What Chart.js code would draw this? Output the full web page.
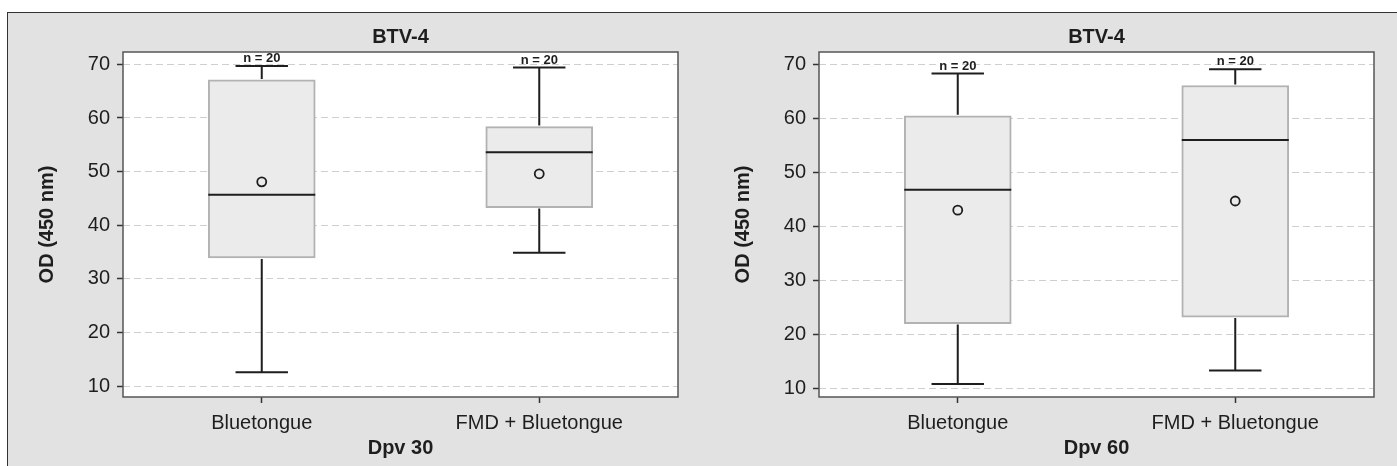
<!DOCTYPE html>
<html>
<head>
<meta charset="utf-8">
<script src="https://cdn.jsdelivr.net/npm/chart.js@4/dist/chart.umd.min.js"></script>
<style>
  html, body { margin: 0; padding: 0; background: #fff; width: 1397px; height: 466px; overflow: hidden; position: relative; }
  #frame { position: absolute; left: 7px; top: 12px; width: 1420px; height: 480px; background: #e2e2e2;
           border-top: 1.5px solid #333; border-left: 1.5px solid #333; }
  .panel { position: absolute; top: 0; height: 466px; }
  #p1 { left: 0; width: 698px; }
  #p2 { left: 698px; width: 699px; }
</style>
</head>
<body>
<div id="frame"></div>
<div class="panel" id="p1"><canvas id="c1" width="698" height="466"></canvas></div>
<div class="panel" id="p2"><canvas id="c2" width="699" height="466"></canvas></div>
<script>
// Groups and axis ticks
const categories = ['Bluetongue', 'FMD + Bluetongue'];
const yTicks = [10, 20, 30, 40, 50, 60, 70];

// Day 30 post vaccination: five-number summaries, means and group sizes
const d30Low    = [12.6, 34.9];
const d30Q1     = [33.9, 43.3];
const d30Median = [45.7, 53.6];
const d30Q3     = [67.1, 58.4];
const d30High   = [69.7, 69.4];
const d30Mean   = [48.1, 49.6];
const d30N      = [20, 20];

// Day 60 post vaccination
const d60Low    = [10.8, 13.3];
const d60Q1     = [22.0, 23.2];
const d60Median = [46.8, 56.0];
const d60Q3     = [60.5, 66.1];
const d60High   = [68.3, 69.1];
const d60Mean   = [43.0, 44.7];
const d60N      = [20, 20];

const FONT = "'Liberation Sans', Arial, Helvetica, sans-serif";
const INK = '#1e1e1e';
Chart.defaults.font.family = FONT;

// White plot background and dark frame around the chart area
const plotFrame = {
  id: 'plotFrame',
  beforeDraw(chart) {
    const { ctx, chartArea: a } = chart;
    ctx.save();
    ctx.fillStyle = '#ffffff';
    ctx.fillRect(a.left, a.top, a.right - a.left, a.bottom - a.top);
    ctx.restore();
  },
  afterDraw(chart) {
    const { ctx, chartArea: a } = chart;
    ctx.save();
    ctx.strokeStyle = '#555';
    ctx.lineWidth = 1.5;
    ctx.strokeRect(a.left, a.top, a.right - a.left, a.bottom - a.top);
    ctx.restore();
  }
};

// Whiskers, caps, medians and group-size labels drawn on the chart's own scales
const boxExtras = {
  id: 'boxExtras',
  afterDatasetsDraw(chart, args, opts) {
    const { ctx, scales: { x, y } } = chart;
    const s = opts.stats;
    const bars = chart.getDatasetMeta(0).data;
    ctx.save();
    ctx.strokeStyle = INK;
    ctx.lineWidth = 2;
    s.median.forEach((m, i) => {
      const cx = x.getPixelForValue(i);
      const bw = bars[i].width;
      const capHalf = bw * 0.245;
      const yLow = y.getPixelForValue(s.low[i]);
      const yQ1 = y.getPixelForValue(s.q1[i]);
      const yQ3 = y.getPixelForValue(s.q3[i]);
      const yHigh = y.getPixelForValue(s.high[i]);
      const yMed = y.getPixelForValue(m);
      ctx.beginPath();
      // upper whisker and cap
      ctx.moveTo(cx, yQ3 - 1); ctx.lineTo(cx, yHigh);
      ctx.moveTo(cx - capHalf, yHigh); ctx.lineTo(cx + capHalf, yHigh);
      // lower whisker and cap
      ctx.moveTo(cx, yQ1 + 1); ctx.lineTo(cx, yLow);
      ctx.moveTo(cx - capHalf, yLow); ctx.lineTo(cx + capHalf, yLow);
      // median
      ctx.moveTo(cx - bw / 2, yMed); ctx.lineTo(cx + bw / 2, yMed);
      ctx.stroke();

      ctx.fillStyle = INK;
      ctx.font = 'bold 13px ' + FONT;
      ctx.textAlign = 'center';
      ctx.textBaseline = 'bottom';
      ctx.fillText('n = ' + s.n[i], cx, yHigh - 1);
    });
    ctx.restore();
  }
};

function makeChart(id, xTitle, stats, yMin, yMax, padLeft, padRight) {
  return new Chart(document.getElementById(id), {
    type: 'bar',
    data: {
      labels: categories,
      datasets: [
        {
          type: 'bar',
          data: stats.q1.map((q, i) => [q, stats.q3[i]]),
          backgroundColor: '#ebebeb',
          borderColor: '#b2b2b2',
          borderWidth: 2,
          borderSkipped: false,
          barThickness: 107,
          order: 2
        },
        {
          type: 'line',
          data: stats.mean,
          showLine: false,
          pointStyle: 'circle',
          pointRadius: 4.5,
          pointBorderWidth: 1.8,
          pointBorderColor: INK,
          pointBackgroundColor: 'rgba(0,0,0,0)',
          order: 1
        }
      ]
    },
    options: {
      responsive: false,
      animation: false,
      devicePixelRatio: 1,
      layout: { padding: { left: padLeft, right: padRight, top: 0, bottom: 0 } },
      plugins: {
        legend: { display: false },
        tooltip: { enabled: false },
        title: {
          display: true,
          text: 'BTV-4',
          fullSize: false,
          color: INK,
          font: { size: 20, weight: 'bold' },
          padding: { top: 25, bottom: 3 }
        },
        boxExtras: { stats }
      },
      scales: {
        x: {
          type: 'category',
          offset: true,
          grid: { display: true, drawOnChartArea: false, offset: false, tickLength: 6, tickColor: '#333', tickWidth: 1.5 },
          border: { display: false },
          ticks: { color: INK, font: { size: 20 }, padding: 8, maxRotation: 0 },
          title: { display: true, text: xTitle, color: INK, font: { size: 20, weight: 'bold' }, padding: { top: 0, bottom: 6 } },
          afterFit(s) { s.height = 69; }
        },
        y: {
          type: 'linear',
          min: yMin,
          max: yMax,
          afterBuildTicks(s) { s.ticks = yTicks.map(v => ({ value: v })); },
          grid: { color: '#cfcfcf', lineWidth: 1, tickLength: 6, tickColor: '#333', tickWidth: 1.5, tickBorderDash: [] },
          border: { display: false, dash: [7, 4] },
          ticks: { color: INK, font: { size: 20 }, padding: 7 },
          title: { display: true, text: 'OD (450 nm)', color: INK, font: { size: 20, weight: 'bold' }, padding: { top: 4, bottom: 4 } },
          afterFit(s) { s.width = 92; }
        }
      }
    },
    plugins: [plotFrame, boxExtras]
  });
}

makeChart('c1', 'Dpv 30',
  { low: d30Low, q1: d30Q1, median: d30Median, q3: d30Q3, high: d30High, mean: d30Mean, n: d30N },
  8.0, 72.3, 31, 20);

makeChart('c2', 'Dpv 60',
  { low: d60Low, q1: d60Q1, median: d60Median, q3: d60Q3, high: d60High, mean: d60Mean, n: d60N },
  8.4, 72.3, 29, 23);
</script>
</body>
</html>
